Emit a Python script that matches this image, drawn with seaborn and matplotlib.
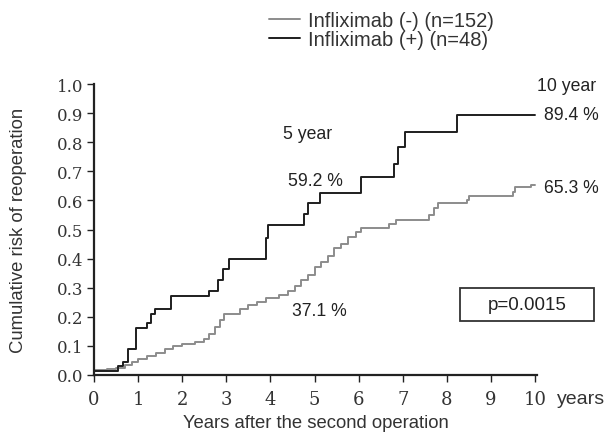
import matplotlib.pyplot as plt
import numpy as np
import pandas as pd
import seaborn as sb
from matplotlib.patches import Rectangle

# step curves (years, cumulative risk)
neg_years = [0.0, 0.3, 0.5, 0.7, 0.85, 1.0, 1.2, 1.4, 1.6, 1.8, 2.0, 2.3, 2.5, 2.6,
             2.75, 2.85, 2.95, 3.3, 3.5, 3.7, 3.9, 4.2, 4.4, 4.55, 4.7, 4.85, 5.0,
             5.15, 5.3, 5.45, 5.6, 5.75, 5.95, 6.05, 6.7, 6.85, 7.6, 7.7, 7.8, 8.45,
             8.5, 9.5, 9.55, 9.9, 10.0]
neg_risk = [0.015, 0.02, 0.025, 0.035, 0.045, 0.055, 0.065, 0.075, 0.09, 0.1, 0.107,
            0.113, 0.125, 0.14, 0.165, 0.19, 0.21, 0.225, 0.24, 0.25, 0.265, 0.275,
            0.29, 0.305, 0.325, 0.345, 0.371, 0.39, 0.41, 0.435, 0.45, 0.475, 0.49,
            0.505, 0.52, 0.534, 0.55, 0.575, 0.59, 0.6, 0.615, 0.63, 0.645, 0.653,
            0.653]

pos_years = [0.0, 0.55, 0.65, 0.78, 0.95, 1.2, 1.3, 1.38, 1.75, 2.6, 2.8, 2.93, 3.05,
             3.9, 3.95, 4.77, 4.86, 5.12, 6.05, 6.8, 6.9, 7.05, 8.24, 10.0]
pos_risk = [0.014, 0.03, 0.045, 0.09, 0.16, 0.18, 0.21, 0.225, 0.27, 0.29, 0.325,
            0.365, 0.40, 0.47, 0.515, 0.555, 0.592, 0.625, 0.68, 0.725, 0.785, 0.836,
            0.894, 0.894]

labels = ["Infliximab (-) (n=152)", "Infliximab (+) (n=48)"]
colors = ["#8c8c8c", "#1e1e1e"]

df = pd.concat([
    pd.DataFrame({"years": neg_years, "risk": neg_risk, "group": labels[0]}),
    pd.DataFrame({"years": pos_years, "risk": pos_risk, "group": labels[1]}),
])

sb.set_style("ticks")
plt.rcParams["font.family"] = ["Liberation Sans", "DejaVu Sans"]

fig = plt.figure(figsize=(6.07, 4.35), dpi=100)
ax = fig.add_axes([0.155, 0.136, 0.73, 0.668])

sb.lineplot(data=df, x="years", y="risk", hue="group", palette=colors,
            estimator=None, sort=False, drawstyle="steps-post", linewidth=1.4,
            ax=ax, legend=False)

ax.set_xlim(0, 10.05)
ax.set_ylim(0, 1.0)
ax.set_xticks(range(0, 11))
ax.set_yticks(np.arange(0, 1.01, 0.1))
ax.set_yticklabels([f"{v:.1f}" for v in np.arange(0, 1.01, 0.1)])
for lab in ax.get_xticklabels():
    lab.set_family("DejaVu Serif")
    lab.set_fontsize(13)
for lab in ax.get_yticklabels():
    lab.set_family("DejaVu Serif")
    lab.set_fontsize(12)
ax.tick_params(length=5, width=1, color="#222222", labelcolor="#333333")
ax.tick_params(axis="x", pad=6)
ax.tick_params(axis="y", pad=3)
sb.despine(ax=ax)
for s in ["left", "bottom"]:
    ax.spines[s].set_linewidth(1.6)
    ax.spines[s].set_color("#222222")

ax.set_xlabel("Years after the second operation", fontsize=13.3, color="#333333", labelpad=4)
ax.set_ylabel("Cumulative risk of reoperation", fontsize=13.3, color="#333333", labelpad=21)

txt = dict(fontsize=12.7, color="#222222", clip_on=False)
ax.text(10.72, 0.995, "10 year", ha="center", va="center", **txt)
ax.text(10.2, 0.896, "89.4 %", ha="left", va="center", **txt)
ax.text(10.2, 0.645, "65.3 %", ha="left", va="center", **txt)
ax.text(4.84, 0.83, "5 year", ha="center", va="center", **txt)
ax.text(5.02, 0.668, "59.2 %", ha="center", va="center", **txt)
ax.text(5.11, 0.221, "37.1 %", ha="center", va="center", **txt)
ax.text(10.5, -0.08, "years", ha="left", va="center", fontsize=14, color="#333333", clip_on=False)
ax.text(9.82, 0.242, "p=0.0015", ha="center", va="center", fontsize=13.5, color="#222222",
        clip_on=False)
ax.add_patch(Rectangle((8.3, 0.187), 3.04, 0.111, fill=False, ec="#333333", lw=1.3,
                       clip_on=False))

handles = [plt.Line2D([], [], color=c, lw=1.4) for c in colors]
fig.legend(handles, labels, loc="upper left", bbox_to_anchor=(0.413, 1.015),
           frameon=False, fontsize=14.5, handlelength=1.55, handletextpad=0.4,
           labelspacing=0.02, labelcolor="#333333")

fig.savefig("out.png", dpi=100)
